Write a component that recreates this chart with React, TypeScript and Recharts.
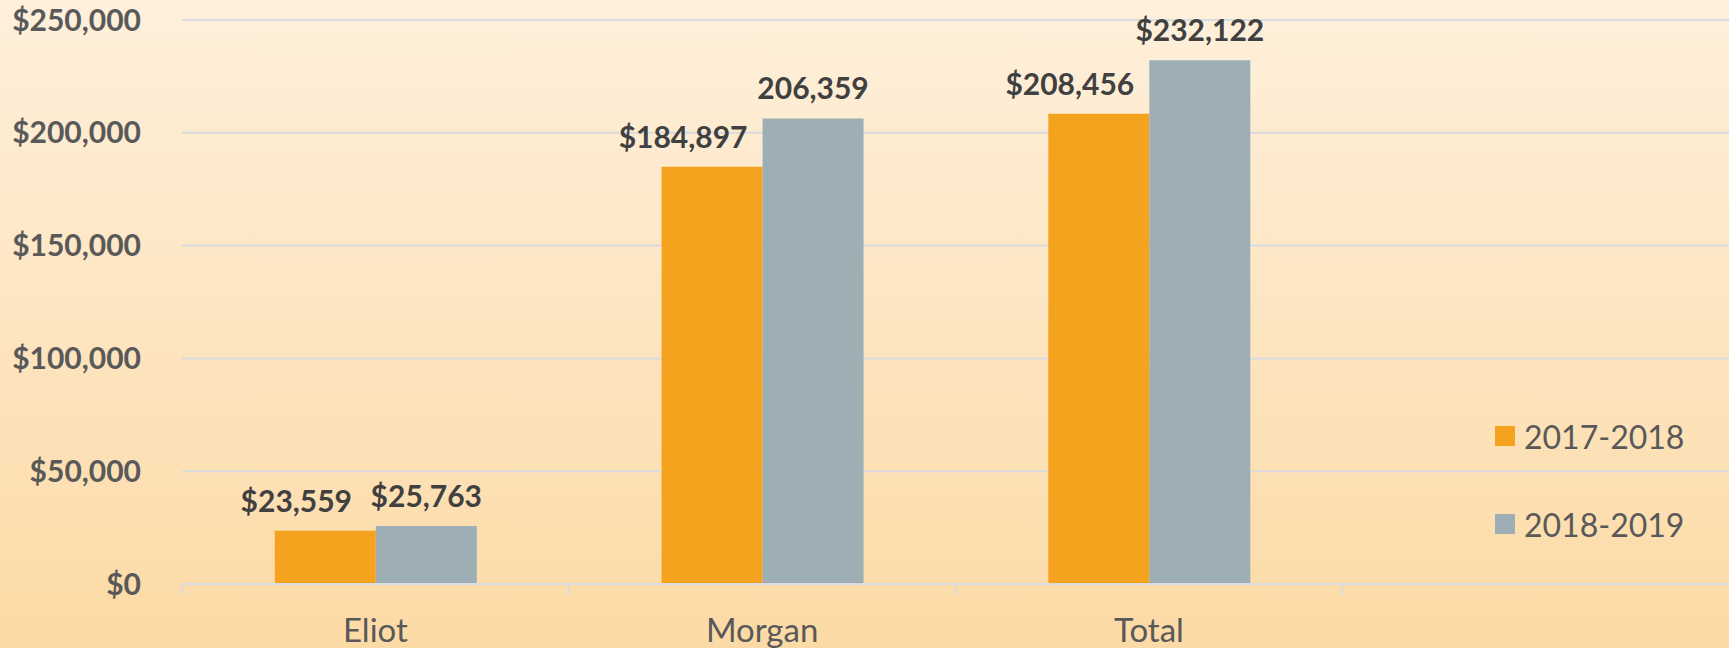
import React from "react";
import { BarChart, Bar, XAxis, YAxis, CartesianGrid, Legend } from "recharts";

const categories = ["Eliot", "Morgan", "Total", ""];
const series2017 = [23559, 184897, 208456, null];
const series2018 = [25763, 206359, 232122, null];
const labels2017 = ["$23,559", "$184,897", "$208,456", ""];
const labels2018 = ["$25,763", "206,359", "$232,122", ""];
const yTicks = [0, 50000, 100000, 150000, 200000, 250000];
const seriesNames = ["2017-2018", "2018-2019"];

const ORANGE = "#F5A31E";
const GRAY = "#9DAFB5";
const FONT = "Lato, 'Open Sans', sans-serif";

const data = categories.map((c, i) => ({
  name: c,
  a: series2017[i],
  b: series2018[i],
}));

const fmtY = (v: number) => "$" + v.toLocaleString("en-US");

const makeLabel = (labels: string[], shift: number) => (props: any) => {
  const { x, y, width, index } = props;
  const t = labels[index];
  if (!t) return null;
  return (
    <text
      x={x + width / 2 + shift}
      y={y - 19}
      textAnchor="middle"
      fontFamily={FONT}
      fontWeight={700}
      fontSize={30}
      fill="#404040"
    >
      {t}
    </text>
  );
};

const CatTick = (props: any) => {
  const { x, y, payload } = props;
  const half = payload && payload.offset ? payload.offset : 0;
  return (
    <g>
      <line x1={x - half} x2={x - half} y1={y} y2={y + 11} stroke="#D9DBDE" strokeWidth={2} />
      <text
        x={x}
        y={y + 35}
        dy="0.71em"
        textAnchor="middle"
        fontFamily={FONT}
        fontSize={33}
        fill="#595959"
      >
        {payload.value}
      </text>
    </g>
  );
};

const LegendContent = () => (
  <div style={{ fontFamily: FONT, fontSize: 32, color: "#595959" }}>
    {[ORANGE, GRAY].map((c, i) => (
      <div key={i} style={{ display: "flex", alignItems: "center", height: 44, marginBottom: i === 0 ? 44 : 0 }}>
        <span style={{ display: "inline-block", width: 20, height: 20, background: c, marginRight: 9 }} />
        <span>{seriesNames[i]}</span>
      </div>
    ))}
  </div>
);

export default function App() {
  return (
    <div
      style={{
        position: "absolute",
        left: 0,
        top: 0,
        width: 1729,
        height: 648,
        background: "linear-gradient(#FEF0DC, #FCDAA5)",
        overflow: "hidden",
      }}
    >
      <BarChart
        width={1729}
        height={648}
        data={data}
        margin={{ top: 20, right: 0, bottom: 0, left: 0 }}
        barCategoryGap="24%"
        barGap={0}
      >
        <CartesianGrid vertical={false} stroke="#D9DBDE" strokeWidth={2} />
        <XAxis
          dataKey="name"
          height={64}
          axisLine={{ stroke: "#D9DBDE", strokeWidth: 2 }}
          tickLine={false}
          tickSize={0}
          tickMargin={0}
          tick={<CatTick />}
          interval={0}
        />
        <YAxis
          width={182}
          domain={[0, 250000]}
          ticks={yTicks}
          tickFormatter={fmtY}
          axisLine={false}
          tickLine={false}
          tickSize={6}
          tickMargin={35}
          tick={{ fontFamily: FONT, fontWeight: 700, fontSize: 30, fill: "#595959" }}
        />
        <Legend
          content={<LegendContent />}
          layout="horizontal"
          verticalAlign="middle"
          align="center"
          wrapperStyle={{ position: "absolute", left: 1495, top: 414, width: 230 }}
        />
        <Bar dataKey="a" fill={ORANGE} isAnimationActive={false} label={makeLabel(labels2017, -29)} />
        <Bar dataKey="b" fill={GRAY} isAnimationActive={false} label={makeLabel(labels2018, 0)} />
      </BarChart>
    </div>
  );
}
